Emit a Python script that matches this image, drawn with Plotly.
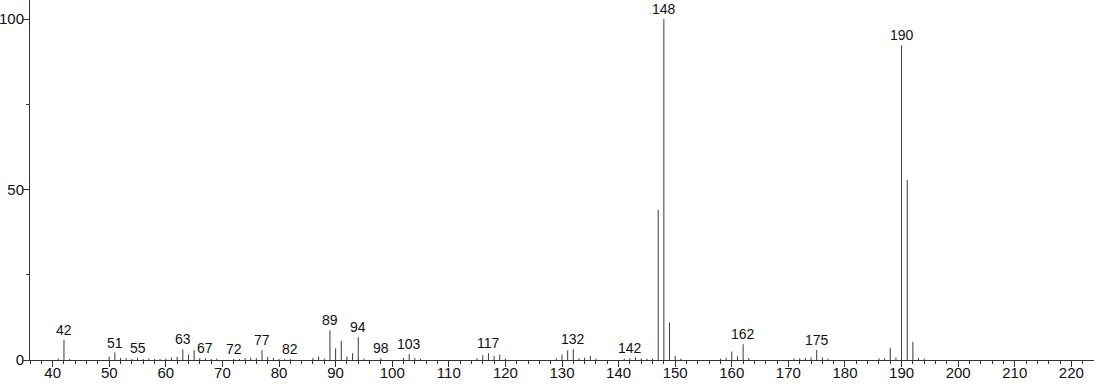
import plotly.graph_objects as go

mz = [41, 42, 43, 50, 51, 52, 53, 54, 55, 56, 57, 58, 59, 60, 61, 62, 63, 64, 65, 66, 67, 68, 69,
      72, 73, 74, 75, 76, 77, 78, 79, 80, 81, 82, 86, 87, 88, 89, 90, 91, 92, 93, 94, 95, 98,
      102, 103, 104, 105, 115, 116, 117, 118, 119, 120, 129, 130, 131, 132, 133, 134, 135, 136,
      141, 142, 143, 144, 145, 146, 147, 148, 149, 150, 151, 158, 159, 160, 161, 162, 163,
      171, 172, 173, 174, 175, 176, 177, 186, 187, 188, 189, 190, 191, 192, 193, 194]
intensity = [0.4, 5.9, 0.3, 1.0, 2.2, 0.6, 0.5, 0.3, 0.6, 0.3, 0.4, 0.3, 0.3, 0.4, 0.7, 0.9, 3.1, 1.6, 2.9, 0.6, 0.5, 0.3, 0.4,
             0.3, 0.3, 0.6, 0.7, 0.5, 2.9, 0.9, 0.6, 0.3, 0.3, 0.3, 0.6, 1.0, 0.4, 8.7, 3.4, 5.6, 1.0, 2.0, 6.7, 0.4, 0.5,
             0.6, 1.7, 0.6, 0.3, 0.5, 1.4, 2.0, 1.2, 1.6, 0.4, 0.5, 1.6, 2.8, 3.2, 0.5, 0.7, 1.2, 0.4,
             0.4, 0.5, 0.8, 0.5, 0.4, 0.4, 44.0, 100.0, 11.0, 1.2, 0.4, 0.4, 0.6, 2.5, 1.1, 4.6, 0.6,
             0.4, 0.5, 0.6, 0.8, 2.9, 0.8, 0.4, 0.5, 0.5, 3.6, 0.7, 92.3, 52.8, 5.3, 0.6, 0.4]
labelled = [42, 51, 55, 63, 67, 72, 77, 82, 89, 94, 98, 103, 117, 132, 142, 148, 162, 175, 190]
x_ticks = list(range(40, 221, 10))
y_ticks = [0, 50, 100]

xs, ys = [], []
for m, v in zip(mz, intensity):
    xs += [m, m, None]
    ys += [0, v, None]

fig = go.Figure()
fig.add_trace(go.Scatter(x=xs, y=ys, mode="lines",
                         line=dict(color="#3a3a3a", width=1),
                         hoverinfo="skip", showlegend=False))

lookup = dict(zip(mz, intensity))
for m in labelled:
    fig.add_annotation(x=m, y=lookup.get(m, 0), text=str(m), showarrow=False,
                       yanchor="bottom", xanchor="center", yshift=0,
                       font=dict(family="Liberation Sans, Arial", size=14, color="#111"))

axis_font = dict(family="Liberation Sans, Arial", size=15, color="#111")
fig.update_layout(
    width=1094, height=384,
    margin=dict(l=30, r=0, t=0, b=24),
    paper_bgcolor="white", plot_bgcolor="white",
    xaxis=dict(range=[36, 224], tickvals=x_ticks, ticks="outside", ticklen=6,
               tickcolor="#333", showline=True, linecolor="#333", linewidth=1,
               showgrid=False, zeroline=False, tickfont=axis_font, automargin=False,
               ticklabelstandoff=-7,
               minor=dict(dtick=2, tick0=0, ticks="outside", ticklen=3, tickcolor="#333")),
    yaxis=dict(range=[0, 105.6], tickvals=y_ticks, ticks="outside", ticklen=6,
               tickcolor="#333", showline=True, linecolor="#333", linewidth=1,
               showgrid=False, zeroline=False, tickfont=axis_font, automargin=False,
               ticklabelstandoff=-4,
               minor=dict(dtick=25, tick0=0, ticks="outside", ticklen=3, tickcolor="#333")),
)

fig.write_html("out.html")
